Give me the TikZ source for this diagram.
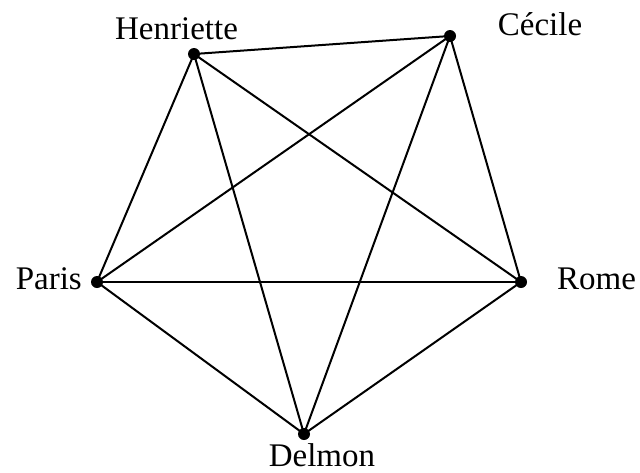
\documentclass[tikz,border=0pt]{standalone}
\usepackage{fontspec}
\setmainfont{Liberation Serif}
\begin{document}
\begin{tikzpicture}[x=1pt,y=-1pt,
  vertex/.style={circle,fill=black,inner sep=0pt,minimum size=12pt},
  lab/.style={inner sep=0pt,font=\fontsize{33}{36}\selectfont},
  edge/.style={line width=2pt}]
\useasboundingbox (0,0) rectangle (640,472);
\node[vertex] (h) at (194,54) {};
\node[vertex] (c) at (450,36) {};
\node[vertex] (p) at (97,282) {};
\node[vertex] (r) at (521,282) {};
\node[vertex] (d) at (304,434) {};
\node[lab,anchor=base] (lh) at (176.5,39) {Henriette};
\node[lab,anchor=base] (lc) at (540,35) {Cécile};
\node[lab,anchor=base east] (lp) at (82,289) {Paris};
\node[lab,anchor=base west] (lr) at (557,289) {Rome};
\node[lab,anchor=base] (ld) at (322,466.5) {Delmon};
\draw[edge] (h.center) -- (c.center);
\draw[edge] (h.center) -- (p.center);
\draw[edge] (h.center) -- (r.center);
\draw[edge] (h.center) -- (d.center);
\draw[edge] (c.center) -- (p.center);
\draw[edge] (c.center) -- (r.center);
\draw[edge] (c.center) -- (d.center);
\draw[edge] (p.center) -- (r.center);
\draw[edge] (p.center) -- (d.center);
\draw[edge] (r.center) -- (d.center);
\end{tikzpicture}
\end{document}
